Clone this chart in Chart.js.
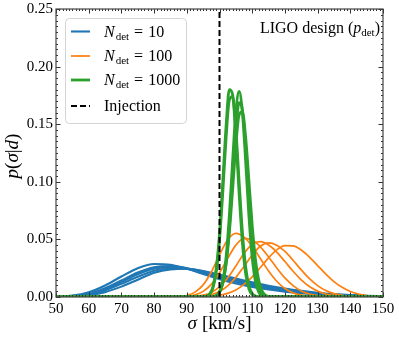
<!DOCTYPE html>
<html>
<head>
<meta charset="utf-8">
<script src="https://cdn.jsdelivr.net/npm/chart.js@4.4.1/dist/chart.umd.min.js"></script>
<style>
  html, body { margin: 0; padding: 0; background: #ffffff; }
  canvas { display: block; }
</style>
</head>
<body>
<canvas id="sigmaChart" width="399" height="341"></canvas>
<script>
// Posterior on sigma

// N_det = 10 (blue)
const blueX = [50, 55, 60, 65, 70, 75, 80, 85, 90, 95, 100, 105, 110, 115, 120, 125, 130, 135, 140, 145, 150];
const blue1 = [0.0003, 0.0012, 0.0042, 0.0100, 0.0178, 0.0250, 0.0287, 0.0280, 0.0245, 0.0200, 0.0155, 0.0118, 0.0088, 0.0065, 0.0047, 0.0033, 0.0022, 0.0014, 0.0009, 0.0005, 0.0003];
const blue2 = [0.0002, 0.0008, 0.0030, 0.0077, 0.0144, 0.0212, 0.0258, 0.0268, 0.0250, 0.0215, 0.0175, 0.0138, 0.0106, 0.0080, 0.0059, 0.0042, 0.0029, 0.0019, 0.0012, 0.0007, 0.0004];
const blue3 = [0.0001, 0.0005, 0.0020, 0.0057, 0.0115, 0.0175, 0.0228, 0.0250, 0.0248, 0.0222, 0.0187, 0.0150, 0.0117, 0.0089, 0.0066, 0.0048, 0.0033, 0.0022, 0.0014, 0.0009, 0.0005];
const blue4 = [0.0001, 0.0004, 0.0014, 0.0042, 0.0090, 0.0150, 0.0210, 0.0240, 0.0245, 0.0226, 0.0195, 0.0160, 0.0127, 0.0098, 0.0073, 0.0053, 0.0037, 0.0025, 0.0016, 0.0010, 0.0006];
const blue5 = [0.0002, 0.0007, 0.0026, 0.0068, 0.0132, 0.0198, 0.0246, 0.0260, 0.0245, 0.0210, 0.0170, 0.0133, 0.0101, 0.0075, 0.0055, 0.0039, 0.0027, 0.0017, 0.0011, 0.0006, 0.0004];

// N_det = 100 (orange)
const orangeX = [50, 85, 87.5, 90, 92.5, 95, 97.5, 100, 102.5, 105, 107.5, 110, 112.5, 115, 117.5, 120, 122.5, 125, 127.5, 130, 132.5, 135, 137.5, 140, 142.5, 145, 147.5, 150];
const orange1 = [0, 0.0001, 0.0003, 0.0013, 0.0042, 0.0105, 0.0217, 0.0364, 0.0497, 0.0552, 0.0520, 0.0440, 0.0334, 0.0226, 0.0137, 0.0074, 0.0036, 0.0016, 0.0006, 0.0002, 0, 0, 0, 0, 0, 0, 0, 0];
const orange2 = [0, 0, 0.0001, 0.0006, 0.0018, 0.0049, 0.0110, 0.0210, 0.0335, 0.0450, 0.0509, 0.0494, 0.0435, 0.0348, 0.0252, 0.0166, 0.0099, 0.0053, 0.0026, 0.0012, 0.0005, 0.0002, 0, 0, 0, 0, 0, 0];
const orange3 = [0, 0, 0, 0.0002, 0.0005, 0.0016, 0.0040, 0.0088, 0.0165, 0.0269, 0.0378, 0.0458, 0.0480, 0.0451, 0.0390, 0.0308, 0.0224, 0.0149, 0.0091, 0.0051, 0.0026, 0.0012, 0.0005, 0.0002, 0, 0, 0, 0];
const orange4 = [0, 0, 0, 0.0001, 0.0003, 0.0008, 0.0021, 0.0047, 0.0096, 0.0170, 0.0265, 0.0364, 0.0441, 0.0470, 0.0450, 0.0395, 0.0319, 0.0235, 0.0159, 0.0099, 0.0056, 0.0029, 0.0014, 0.0006, 0.0002, 0, 0, 0];
const orange5 = [0, 0, 0, 0, 0, 0.0002, 0.0006, 0.0014, 0.0031, 0.0061, 0.0109, 0.0175, 0.0256, 0.0340, 0.0409, 0.0446, 0.0444, 0.0408, 0.0347, 0.0273, 0.0199, 0.0134, 0.0084, 0.0048, 0.0026, 0.0013, 0.0006, 0.0002];

// N_det = 1000 (green)
const greenX = [50, 95, 96, 97, 98, 99, 100, 101, 102, 103, 104, 105, 106, 107, 108, 109, 110, 111, 112, 113, 114, 115, 116, 150];
const green1 = [0, 0.0001, 0.0006, 0.0026, 0.0089, 0.0245, 0.0548, 0.0998, 0.1478, 0.1800, 0.1760, 0.1389, 0.0900, 0.0475, 0.0203, 0.0071, 0.0020, 0.0005, 0.0001, 0, 0, 0, 0, 0];
const green2 = [0, 0.0001, 0.0006, 0.0024, 0.0080, 0.0219, 0.0492, 0.0908, 0.1375, 0.1708, 0.1742, 0.1458, 0.1002, 0.0565, 0.0262, 0.0099, 0.0031, 0.0008, 0.0002, 0, 0, 0, 0, 0];
const green3 = [0, 0, 0, 0, 0.0002, 0.0011, 0.0043, 0.0135, 0.0341, 0.0702, 0.1177, 0.1605, 0.1785, 0.1605, 0.1177, 0.0702, 0.0341, 0.0135, 0.0043, 0.0011, 0.0002, 0, 0, 0];
const green4 = [0, 0, 0, 0, 0.0003, 0.0011, 0.0040, 0.0120, 0.0296, 0.0607, 0.1031, 0.1449, 0.1686, 0.1623, 0.1294, 0.0853, 0.0466, 0.0211, 0.0079, 0.0024, 0.0006, 0.0001, 0, 0];
const green5 = [0, 0, 0, 0, 0.0003, 0.0013, 0.0043, 0.0120, 0.0280, 0.0554, 0.0928, 0.1317, 0.1582, 0.1608, 0.1385, 0.1009, 0.0622, 0.0325, 0.0144, 0.0054, 0.0017, 0.0005, 0.0001, 0];

// injection value and axes
const injection = 100;
const xTicks = [50, 60, 70, 80, 90, 100, 110, 120, 130, 140, 150];
const yTicks = [0, 0.05, 0.10, 0.15, 0.20, 0.25];
const legendLabels = ['10', '100', '1000'];

const BLUE = '#1f77b4';
const ORANGE = '#ff7f0e';
const GREEN = '#2ca02c';
const SERIF = '"Liberation Serif", "DejaVu Serif", serif';

function toPoints(xs, ys) {
    return xs.map((x, i) => ({ x: x, y: ys[i] }));
}

function curve(xs, ys, color, width, order) {
    return {
        data: toPoints(xs, ys),
        borderColor: color,
        borderWidth: width,
        pointRadius: 0,
        fill: false,
        cubicInterpolationMode: 'monotone',
        order: order
    };
}

const datasets = [];
[blue1, blue2, blue3, blue4, blue5].forEach(ys => datasets.push(curve(blueX, ys, BLUE, 2.1, 3)));
[orange1, orange2, orange3, orange4, orange5].forEach(ys => datasets.push(curve(orangeX, ys, ORANGE, 1.7, 2)));
[green1, green2, green3, green4, green5].forEach(ys => datasets.push(curve(greenX, ys, GREEN, 2.8, 1)));
datasets.push({
    data: [{ x: injection, y: yTicks[0] }, { x: injection, y: yTicks[yTicks.length - 1] }],
    borderColor: '#000000',
    borderWidth: 2,
    borderDash: [6, 3],
    pointRadius: 0,
    fill: false,
    order: 0
});

// draw a run of text pieces with different fonts / offsets
function drawRich(ctx, parts, x, y, align) {
    let total = 0;
    parts.forEach(p => {
        ctx.font = p.font;
        p.w = ctx.measureText(p.t).width;
        total += p.w + (p.gap || 0);
    });
    let cx = x;
    if (align === 'right') cx = x - total;
    if (align === 'center') cx = x - total / 2;
    ctx.textAlign = 'left';
    ctx.textBaseline = 'alphabetic';
    parts.forEach(p => {
        ctx.font = p.font;
        ctx.fillText(p.t, cx, y + (p.dy || 0));
        cx += p.w + (p.gap || 0);
    });
}

// axes frame, inward ticks, labels, legend and annotation
const decorPlugin = {
    id: 'decor',
    afterDraw(chart) {
        const ctx = chart.ctx;
        const a = chart.chartArea;
        const xs = chart.scales.x;
        const ys = chart.scales.y;
        ctx.save();

        // ticks
        ctx.strokeStyle = '#333333';
        ctx.lineWidth = 1;
        ctx.beginPath();
        for (let v = xTicks[0]; v <= xTicks[xTicks.length - 1]; v += 1) {
            const px = Math.round(xs.getPixelForValue(v)) + 0.5;
            const len = (v % 10 === 0) ? 4.5 : 2;
            ctx.moveTo(px, a.bottom); ctx.lineTo(px, a.bottom - len);
            ctx.moveTo(px, a.top); ctx.lineTo(px, a.top + len);
        }
        for (let k = 0; k <= 50; k++) {
            const v = k * 0.005;
            const py = Math.round(ys.getPixelForValue(v)) + 0.5;
            const len = (k % 10 === 0) ? 4.5 : 2;
            ctx.moveTo(a.left, py); ctx.lineTo(a.left + len, py);
            ctx.moveTo(a.right, py); ctx.lineTo(a.right - len, py);
        }
        ctx.stroke();

        // frame
        ctx.strokeStyle = '#444444';
        ctx.lineWidth = 1.2;
        ctx.strokeRect(a.left, a.top, a.right - a.left, a.bottom - a.top);

        // tick labels
        ctx.fillStyle = '#000000';
        ctx.font = '15px ' + SERIF;
        ctx.textAlign = 'center';
        ctx.textBaseline = 'alphabetic';
        xTicks.forEach(v => ctx.fillText(String(v), xs.getPixelForValue(v), a.bottom + 16));
        ctx.textAlign = 'right';
        ctx.textBaseline = 'middle';
        yTicks.forEach(v => ctx.fillText(v.toFixed(2), a.left - 3, ys.getPixelForValue(v)));

        // axis titles
        const midX = (a.left + a.right) / 2;
        drawRich(ctx, [
            { t: 'σ', font: 'italic 19px ' + SERIF, gap: 5 },
            { t: '[km/s]', font: '19px ' + SERIF }
        ], midX, a.bottom + 32, 'center');

        ctx.save();
        ctx.translate(18, (a.top + a.bottom) / 2 + 3);
        ctx.rotate(-Math.PI / 2);
        drawRich(ctx, [
            { t: 'p', font: 'italic 19px ' + SERIF },
            { t: '(', font: '19px ' + SERIF },
            { t: 'σ', font: 'italic 19px ' + SERIF },
            { t: '|', font: '19px ' + SERIF },
            { t: 'd', font: 'italic 19px ' + SERIF },
            { t: ')', font: '19px ' + SERIF }
        ], 0, 0, 'center');
        ctx.restore();

        // annotation
        drawRich(ctx, [
            { t: 'LIGO design (', font: '16px ' + SERIF },
            { t: 'p', font: 'italic 16px ' + SERIF },
            { t: 'det', font: '11px ' + SERIF, dy: 3 },
            { t: ')', font: '16px ' + SERIF }
        ], a.right - 3, a.top + 24, 'right');

        // legend
        const bx = 65, by = 18, bw = 121, bh = 105;
        ctx.beginPath();
        ctx.roundRect(bx + 0.5, by + 0.5, bw, bh, 4);
        ctx.fillStyle = 'rgba(255,255,255,0.8)';
        ctx.fill();
        ctx.strokeStyle = '#d4d4d4';
        ctx.lineWidth = 1;
        ctx.stroke();

        const rows = [31.5, 56, 80, 106];
        const colors = [BLUE, ORANGE, GREEN];
        const widths = [2.1, 1.7, 2.8];
        colors.forEach((c, i) => {
            ctx.strokeStyle = c;
            ctx.lineWidth = widths[i];
            ctx.setLineDash([]);
            ctx.beginPath();
            ctx.moveTo(71, rows[i]); ctx.lineTo(90, rows[i]);
            ctx.stroke();
            ctx.fillStyle = '#000000';
            drawRich(ctx, [
                { t: 'N', font: 'italic 16px ' + SERIF, gap: 1 },
                { t: 'det', font: '11px ' + SERIF, dy: 3, gap: 5 },
                { t: '=', font: '16px ' + SERIF, gap: 5 },
                { t: legendLabels[i], font: '16px ' + SERIF }
            ], 104, rows[i] + 5, 'left');
        });
        ctx.strokeStyle = '#000000';
        ctx.lineWidth = 2;
        ctx.setLineDash([6, 3]);
        ctx.beginPath();
        ctx.moveTo(71, rows[3]); ctx.lineTo(90, rows[3]);
        ctx.stroke();
        ctx.setLineDash([]);
        ctx.fillStyle = '#000000';
        ctx.font = '16px ' + SERIF;
        ctx.textAlign = 'left';
        ctx.textBaseline = 'alphabetic';
        ctx.fillText('Injection', 104, rows[3] + 5);

        ctx.restore();
    }
};

// build chart
new Chart(document.getElementById('sigmaChart').getContext('2d'), {
    type: 'line',
    data: { datasets: datasets },
    options: {
        responsive: false,
        animation: false,
        devicePixelRatio: 1,
        layout: { padding: { left: 56, right: 16, top: 9, bottom: 44 } },
        plugins: {
            legend: { display: false },
            tooltip: { enabled: false }
        },
        scales: {
            x: { type: 'linear', min: xTicks[0], max: xTicks[xTicks.length - 1], display: false },
            y: { type: 'linear', min: yTicks[0], max: yTicks[yTicks.length - 1], display: false }
        }
    },
    plugins: [decorPlugin]
});
</script>
</body>
</html>
